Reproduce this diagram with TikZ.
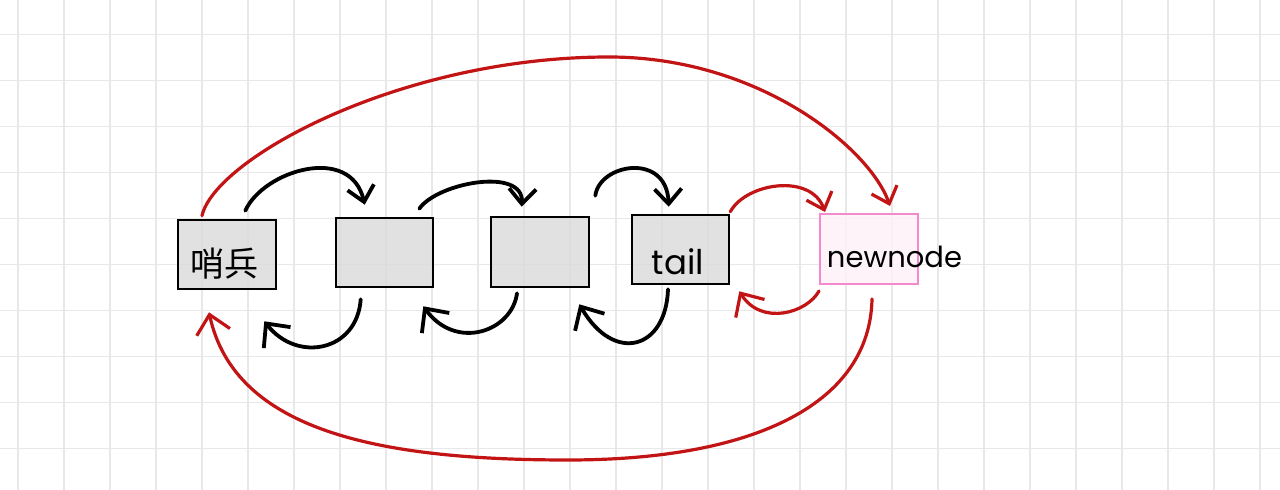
\documentclass[tikz,border=0pt]{standalone}
\usepackage{fontspec}
\usetikzlibrary{arrows.meta}
\newfontfamily\cjkfont{Noto Sans CJK SC}
\newfontfamily\handfont{Poppins}
\definecolor{Grid}{HTML}{E8E8E8}
\definecolor{Cell}{HTML}{DCDCDC}
\definecolor{Link}{HTML}{C21414}
\definecolor{NewEdge}{HTML}{F28ACB}
\definecolor{NewFill}{HTML}{FDF1F7}
\tikzset{
  gridline/.style={Grid,line width=1.8pt},
  cell/.style={draw=black,line width=2.6pt,fill=Cell,fill opacity=.85,
    minimum width=98pt,minimum height=69pt,inner sep=0pt},
  newcell/.style={cell,draw=NewEdge,fill=NewFill,line width=2pt},
  cjk/.style={font=\cjkfont\fontsize{34}{36}\selectfont},
  hand/.style={font=\handfont\fontsize{29}{32}\selectfont,inner sep=0pt},
  link/.style={line width=3.8pt,line cap=round,line join=round},
  redlink/.style={link,draw=Link,line width=3.2pt},
  fwdtip/.style={-{Straight Barb[length=15pt,width=27pt]}},
  backtip/.style={-{Straight Barb[length=18pt,width=34pt]}}
}

\begin{document}
\begin{tikzpicture}[x=1pt,y=1pt]
\useasboundingbox (0,0) rectangle (1280,490);
\fill[white] (0,0) rectangle (1280,490);
\foreach \gx in {18,64,...,1260}{
  \draw[gridline] (\gx,0)--(\gx,490);
}
\foreach \gy in {41.5,87.5,...,455.5}{
  \draw[gridline] (0,\gy)--(1280,\gy);
}

\node[cell] (sentinel) at (227,235.5) {};
\node[cell,minimum width=97pt] (second) at (384.5,237.5) {};
\node[cell,minimum height=70pt] (third) at (540,238) {};
\node[cell,minimum width=97pt] (tail) at (680.5,240.5) {};
\node[newcell,minimum height=70pt] (newnode) at (869,241) {};
\node[cjk] (sentinel-text) at (224,226) {哨兵};
\node[hand,font=\handfont\fontsize{34}{36}\selectfont] (tail-text) at (678,228) {tail};
\node[hand] (newnode-text) at (894.5,233) {newnode};

\coordinate (top) at (609,433);
\coordinate (bottom) at (568,30);

% next pointers
\draw[link,fwdtip] ([shift={(-32,8)}]sentinel.north east) .. controls +(18,40) and +(-14,61) .. ([shift={(30,12)}]second.north west);
\draw[link,fwdtip] ([shift={(-15,8)}]second.north east) .. controls +(18,26) and +(2,40) .. ([shift={(32,9)}]third.north west);
\draw[link,fwdtip] ([shift={(5,20)}]third.north east) .. controls +(4,32) and +(-2,55) .. ([shift={(38,7)}]tail.north west);
\draw[redlink,fwdtip] ([shift={(0,2)}]tail.north east) .. controls +(16,29) and +(-14,39) .. ([shift={(6,1)}]newnode.north west);
\draw[redlink,fwdtip] ([shift={(-25,3)}]sentinel.north) .. controls +(13,57) and (400,433) .. (top)
  .. controls (760,433) and +(-20,57) .. ([shift={(21,7)}]newnode.north);

% prev pointers
\draw[link,backtip] ([shift={(26,-11)}]second.south west) .. controls +(-3.5,-52) and +(33,-42) .. ([shift={(-13,-31)}]sentinel.south east);
\draw[link,backtip] ([shift={(-23,-5)}]third.south) .. controls +(-5,-38) and +(33,-45) .. ([shift={(-11,-18)}]second.south east);
\draw[link,backtip] ([shift={(-12.5,-4)}]tail.south) .. controls +(-2,-60) and +(35,-60) .. ([shift={(-11,-16)}]third.south east);
\draw[redlink,backtip] ([shift={(0,-6)}]newnode.south west) .. controls +(-12,-22) and +(22,-35) .. ([shift={(9,-6)}]tail.south east);
\draw[redlink,backtip] ([shift={(3,-14)}]newnode.south) .. controls +(-2,-102) and (760,30) .. (bottom)
  .. controls (380,30) and +(26,-119) .. ([shift={(-18,-22)}]sentinel.south);
\end{tikzpicture}
\end{document}
